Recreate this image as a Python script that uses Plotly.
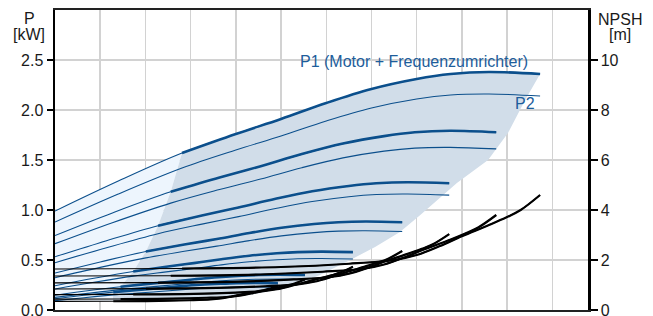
import plotly.graph_objects as go

# ---------------- data ----------------
# flow positions (grid units) and power values of the P1 / P2 curves, one list per speed
p_flow = [
    [0, 1.40, 2.81, 4.00, 5.00, 6.00, 7.00, 8.00, 8.75, 9.60, 10.73],
    [0, 1.27, 2.56, 3.64, 4.55, 5.46, 6.37, 7.28, 7.96, 8.74, 9.76],
    [0, 1.14, 2.28, 3.25, 4.06, 4.88, 5.69, 6.50, 7.11, 7.80, 8.72],
    [0, 1.00, 2.01, 2.86, 3.58, 4.30, 5.01, 5.73, 6.27, 6.87, 7.68],
    [0, 0.86, 1.73, 2.46, 3.07, 3.68, 4.30, 4.91, 5.37, 5.89, 6.59],
    [0, 0.72, 1.45, 2.06, 2.58, 3.09, 3.61, 4.12, 4.51, 4.94, 5.53],
    [0, 0.64, 1.29, 1.84, 2.30, 2.75, 3.21, 3.67, 4.02, 4.41, 4.93],
]
p1_kw = [
    [0.99, 1.29, 1.57, 1.76, 1.91, 2.07, 2.21, 2.31, 2.36, 2.38, 2.36],
    [0.745, 0.971, 1.182, 1.325, 1.438, 1.559, 1.664, 1.739, 1.777, 1.792, 1.777],
    [0.532, 0.693, 0.843, 0.945, 1.026, 1.112, 1.187, 1.240, 1.267, 1.278, 1.267],
    [0.37, 0.48, 0.585, 0.655, 0.71, 0.77, 0.822, 0.86, 0.878, 0.885, 0.878],
    [0.243, 0.317, 0.385, 0.432, 0.469, 0.508, 0.543, 0.567, 0.579, 0.584, 0.579],
    [0.147, 0.192, 0.233, 0.261, 0.284, 0.307, 0.328, 0.343, 0.350, 0.353, 0.350],
    [0.113, 0.147, 0.179, 0.201, 0.218, 0.236, 0.252, 0.263, 0.269, 0.271, 0.269],
]
p2_kw = [
    [0.88, 1.16, 1.42, 1.60, 1.74, 1.89, 2.02, 2.11, 2.15, 2.16, 2.14],
    [0.663, 0.873, 1.069, 1.205, 1.310, 1.423, 1.521, 1.589, 1.619, 1.626, 1.611],
    [0.473, 0.623, 0.763, 0.859, 0.934, 1.015, 1.085, 1.133, 1.155, 1.160, 1.149],
    [0.323, 0.426, 0.521, 0.587, 0.639, 0.694, 0.741, 0.774, 0.789, 0.793, 0.785],
    [0.210, 0.277, 0.339, 0.381, 0.415, 0.451, 0.482, 0.503, 0.513, 0.515, 0.510],
    [0.126, 0.166, 0.204, 0.229, 0.250, 0.271, 0.290, 0.303, 0.308, 0.310, 0.307],
    [0.094, 0.123, 0.151, 0.170, 0.185, 0.201, 0.215, 0.225, 0.229, 0.230, 0.228],
]
# NPSH curves (right axis)
npsh_flow = [
    [0, 2.81, 5.00, 6.50, 7.50, 8.00, 8.50, 9.00, 9.60, 10.00, 10.30, 10.73],
    [0, 2.56, 4.55, 5.92, 6.83, 7.28, 7.74, 8.19, 8.74, 9.10, 9.37, 9.76],
    [0, 2.28, 4.06, 5.28, 6.10, 6.50, 6.91, 7.31, 7.80, 8.13, 8.37, 8.72],
    [0, 2.01, 3.58, 4.65, 5.37, 5.73, 6.09, 6.44, 6.87, 7.16, 7.37, 7.68],
    [0, 1.73, 3.07, 3.99, 4.61, 4.91, 5.22, 5.53, 5.89, 6.14, 6.32, 6.59],
    [0, 1.45, 2.58, 3.35, 3.86, 4.12, 4.38, 4.64, 4.94, 5.15, 5.30, 5.53],
    [0, 1.29, 2.30, 2.98, 3.44, 3.67, 3.90, 4.13, 4.41, 4.59, 4.73, 4.93],
]
npsh_m = [
    [1.64, 1.66, 1.72, 1.85, 2.00, 2.20, 2.55, 2.95, 3.40, 3.72, 4.00, 4.60],
    [1.36, 1.37, 1.42, 1.53, 1.65, 1.82, 2.11, 2.44, 2.81, 3.08, 3.31, 3.80],
    [1.083, 1.096, 1.136, 1.222, 1.321, 1.453, 1.684, 1.948, 2.246, 2.457, 2.642, 3.038],
    [0.841, 0.852, 0.882, 0.949, 1.026, 1.129, 1.308, 1.513, 1.744, 1.908, 2.052, 2.360],
    [0.618, 0.626, 0.648, 0.697, 0.754, 0.829, 0.961, 1.112, 1.282, 1.402, 1.508, 1.734],
    [0.435, 0.440, 0.456, 0.490, 0.530, 0.583, 0.676, 0.782, 0.901, 0.986, 1.060, 1.219],
    [0.346, 0.350, 0.363, 0.390, 0.422, 0.464, 0.538, 0.622, 0.717, 0.785, 0.844, 0.971],
]
P1_THICK_FROM = 2
NPSH_THICK_FROM = 1

# operating-range shading (dark) and extension zone (light)
light_q = [0, 1.40, 2.81, 2.56, 2.28, 2.01, 1.73, 1.45, 1.29, 1.28, 0]
light_kw = [0.99, 1.29, 1.57, 1.182, 0.843, 0.585, 0.385, 0.233, 0.179, 0.09, 0.08]
dark_q = [1.28, 1.29, 1.45, 1.73, 2.01, 2.28, 2.56, 2.81, 3.2, 4.00, 5.00, 6.00, 7.00,
          8.00, 8.75, 9.60, 10.73, 10.40, 10.02, 9.58, 8.89, 8.47, 8.08, 7.63, 7.08,
          6.53, 5.86, 5.20, 4.31, 2.77]
dark_kw = [0.09, 0.179, 0.233, 0.385, 0.585, 0.843, 1.182, 1.57, 1.63, 1.76, 1.91, 2.07,
           2.21, 2.31, 2.36, 2.38, 2.36, 2.10, 1.77, 1.50, 1.27, 1.10, 0.95, 0.78, 0.63,
           0.50, 0.35, 0.23, 0.15, 0.11]

kw_ticks = [0.0, 0.5, 1.0, 1.5, 2.0, 2.5]
kw_tick_labels = ["0.0", "0.5", "1.0", "1.5", "2.0", "2.5"]
npsh_ticks = [0, 2, 4, 6, 8, 10]
npsh_tick_labels = ["0", "2", "4", "6", "8", "10"]

# ---------------- styling ----------------
BLUE = "#0b4f8c"
TXT_BLUE = "#1d5d9b"
DARK_FILL = "#d1dde9"
LIGHT_FILL = "#edf5fd"
FONT = "Arial, Liberation Sans, sans-serif"
FS = 16

fig = go.Figure()

fig.add_trace(go.Scatter(x=light_q, y=light_kw, mode="lines", fill="toself",
                         fillcolor=LIGHT_FILL, line=dict(width=0), hoverinfo="skip"))
fig.add_trace(go.Scatter(x=dark_q, y=dark_kw, mode="lines", fill="toself",
                         fillcolor=DARK_FILL, line=dict(width=0), hoverinfo="skip"))

for q, p1, p2 in zip(p_flow, p1_kw, p2_kw):
    fig.add_trace(go.Scatter(x=q, y=p2, mode="lines",
                             line=dict(color=BLUE, width=1.1, shape="spline")))
    fig.add_trace(go.Scatter(x=q, y=p1, mode="lines",
                             line=dict(color=BLUE, width=1.1, shape="spline")))
    fig.add_trace(go.Scatter(x=q[P1_THICK_FROM:], y=p1[P1_THICK_FROM:], mode="lines",
                             line=dict(color=BLUE, width=2.6, shape="spline")))

for q, n in zip(npsh_flow, npsh_m):
    fig.add_trace(go.Scatter(x=q, y=n, mode="lines", yaxis="y2",
                             line=dict(color="#000000", width=1.2, shape="spline")))
    fig.add_trace(go.Scatter(x=q[NPSH_THICK_FROM:], y=n[NPSH_THICK_FROM:], mode="lines",
                             yaxis="y2",
                             line=dict(color="#000000", width=2.2, shape="spline")))

fig.update_layout(
    width=653, height=316,
    margin=dict(l=55, r=65, t=10, b=6, autoexpand=False),
    paper_bgcolor="white", plot_bgcolor="white",
    showlegend=False,
    font=dict(family=FONT, size=FS, color="#1a1a1a"),
    xaxis=dict(range=[0, 11.79], dtick=1, tick0=0, showgrid=True,
               gridcolor="#d2d2d2", gridwidth=1.5, showticklabels=False,
               ticks="", zeroline=False, showline=True, linecolor="#222222",
               linewidth=2, mirror=True, automargin=False),
    yaxis=dict(range=[0, 3.0], tickvals=kw_ticks, ticktext=kw_tick_labels,
               showgrid=True, gridcolor="#d2d2d2", gridwidth=1.5, zeroline=False,
               showline=True, linecolor="#000000", linewidth=2.5,
               ticks="outside", ticklen=6, tickwidth=2, tickcolor="#000000",
               ticklabeloverflow="allow", automargin=False,
               tickfont=dict(size=FS, color="#1a1a1a")),
    yaxis2=dict(range=[0, 12], tickvals=npsh_ticks, ticktext=npsh_tick_labels,
                overlaying="y", side="right", showgrid=False, zeroline=False,
                showline=True, linecolor="#000000", linewidth=2.5,
                ticks="outside", ticklen=7, tickwidth=2, tickcolor="#000000",
                ticklabeloverflow="allow", automargin=False,
                tickfont=dict(size=FS, color="#1a1a1a")),
)

def label(text, x, y, xref="paper", yref="paper", color="#1a1a1a"):
    return dict(text=text, x=x, y=y, xref=xref, yref=yref, xanchor="center",
                yanchor="middle", showarrow=False, font=dict(size=FS, color=color))

annotations = [
    label("P", -0.048, 0.973),
    label("[kW]", -0.048, 0.917),
    label("NPSH", 1.060, 0.970),
    label("[m]", 1.060, 0.917),
    label("P1 (Motor + Frequenzumrichter)", 7.94, 2.49, "x", "y", TXT_BLUE),
    label("P2", 10.4, 2.07, "x", "y", TXT_BLUE),
]
fig.update_layout(annotations=annotations)

fig.write_html(
    "out.html",
    config={"displayModeBar": False, "staticPlot": True},
    post_script=("document.body.style.margin='0';"
                 "document.body.style.overflow='hidden';"
                 "document.documentElement.style.overflow='hidden';"),
)
